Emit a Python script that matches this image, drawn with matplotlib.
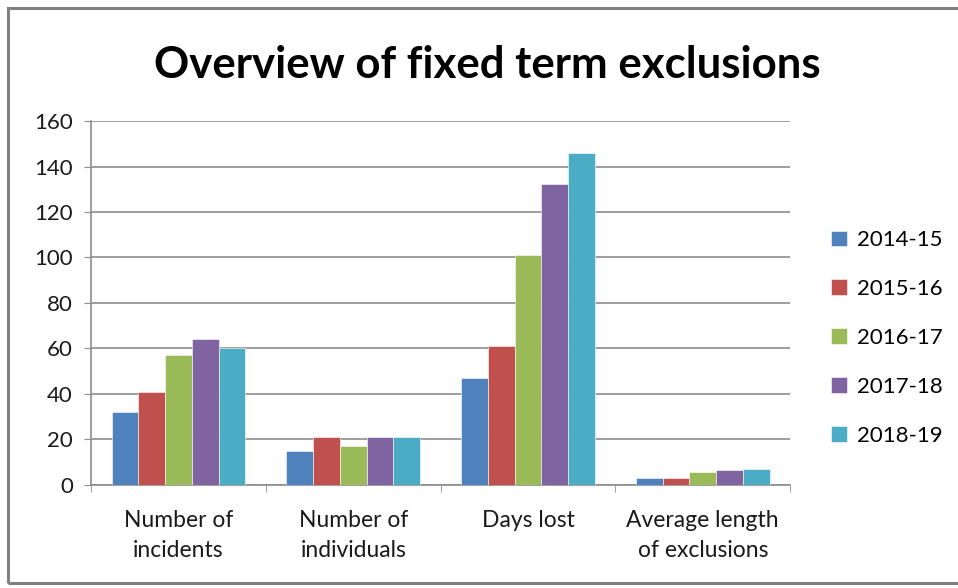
import numpy as np
import matplotlib.pyplot as plt
from matplotlib.patches import Rectangle

categories = ["Number of\nincidents", "Number of\nindividuals", "Days lost", "Average length\nof exclusions"]
years = ["2014-15", "2015-16", "2016-17", "2017-18", "2018-19"]
v_2014 = [32, 15, 47, 2.9]
v_2015 = [41, 21, 61, 3.0]
v_2016 = [57, 17, 101, 5.7]
v_2017 = [64, 21, 132.5, 6.4]
v_2018 = [60, 21, 146, 6.9]
colors = ["#4f81bd", "#c0504d", "#9bbb59", "#8064a2", "#4bacc6"]


def main():
    plt.rcParams['font.family'] = ['Lato', 'DejaVu Sans']
    fig = plt.figure(figsize=(9.58, 5.88), dpi=100)
    ax = fig.add_axes([0.095, 0.1752, 0.7298, 0.619])

    series = [v_2014, v_2015, v_2016, v_2017, v_2018]
    x = np.arange(len(categories))
    w = 0.153
    for i, vals in enumerate(series):
        ax.bar(x + (i - 2) * w, vals, width=w, color=colors[i], label=years[i],
               edgecolor="white", linewidth=0.4, zorder=3)

    ax.set_xlim(-0.5, len(categories) - 0.5)
    ax.set_ylim(0, 160)
    ax.set_yticks(range(0, 161, 20))
    ax.yaxis.grid(True, color="#8c8c8c", linewidth=1.2, zorder=0)
    ax.set_xticks(x)
    ax.set_xticklabels(categories, fontsize=16.5, color="#1a1a1a", linespacing=1.55)
    ax.set_xticks(np.arange(-0.5, len(categories)), minor=True)
    ax.tick_params(axis="x", which="major", length=0, pad=18)
    ax.tick_params(axis="x", which="minor", length=5, color="#8c8c8c")
    ax.tick_params(axis="y", length=5, color="#8c8c8c", labelsize=16, labelcolor="#1a1a1a", pad=8)
    for s in ["top", "right"]:
        ax.spines[s].set_visible(False)
    for s in ["left", "bottom"]:
        ax.spines[s].set_color("#8c8c8c")
        ax.spines[s].set_linewidth(1.2)

    fig.text(0.509, 0.89, "Overview of fixed term exclusions", ha="center", va="center",
             fontsize=31.5, fontweight="bold", color="black")

    ax.legend(loc="center left", bbox_to_anchor=(1.03, 0.404), frameon=False, fontsize=16,
              handlelength=0.7, handleheight=0.7, handletextpad=0.45, labelspacing=1.3)

    fig.patches.append(Rectangle((8 / 958, 5 / 588), 1.0, 575 / 588, transform=fig.transFigure,
                                 fill=False, edgecolor="#808080", linewidth=2.2))

    plt.savefig("out.png", dpi=100)


if __name__ == "__main__":
    main()
